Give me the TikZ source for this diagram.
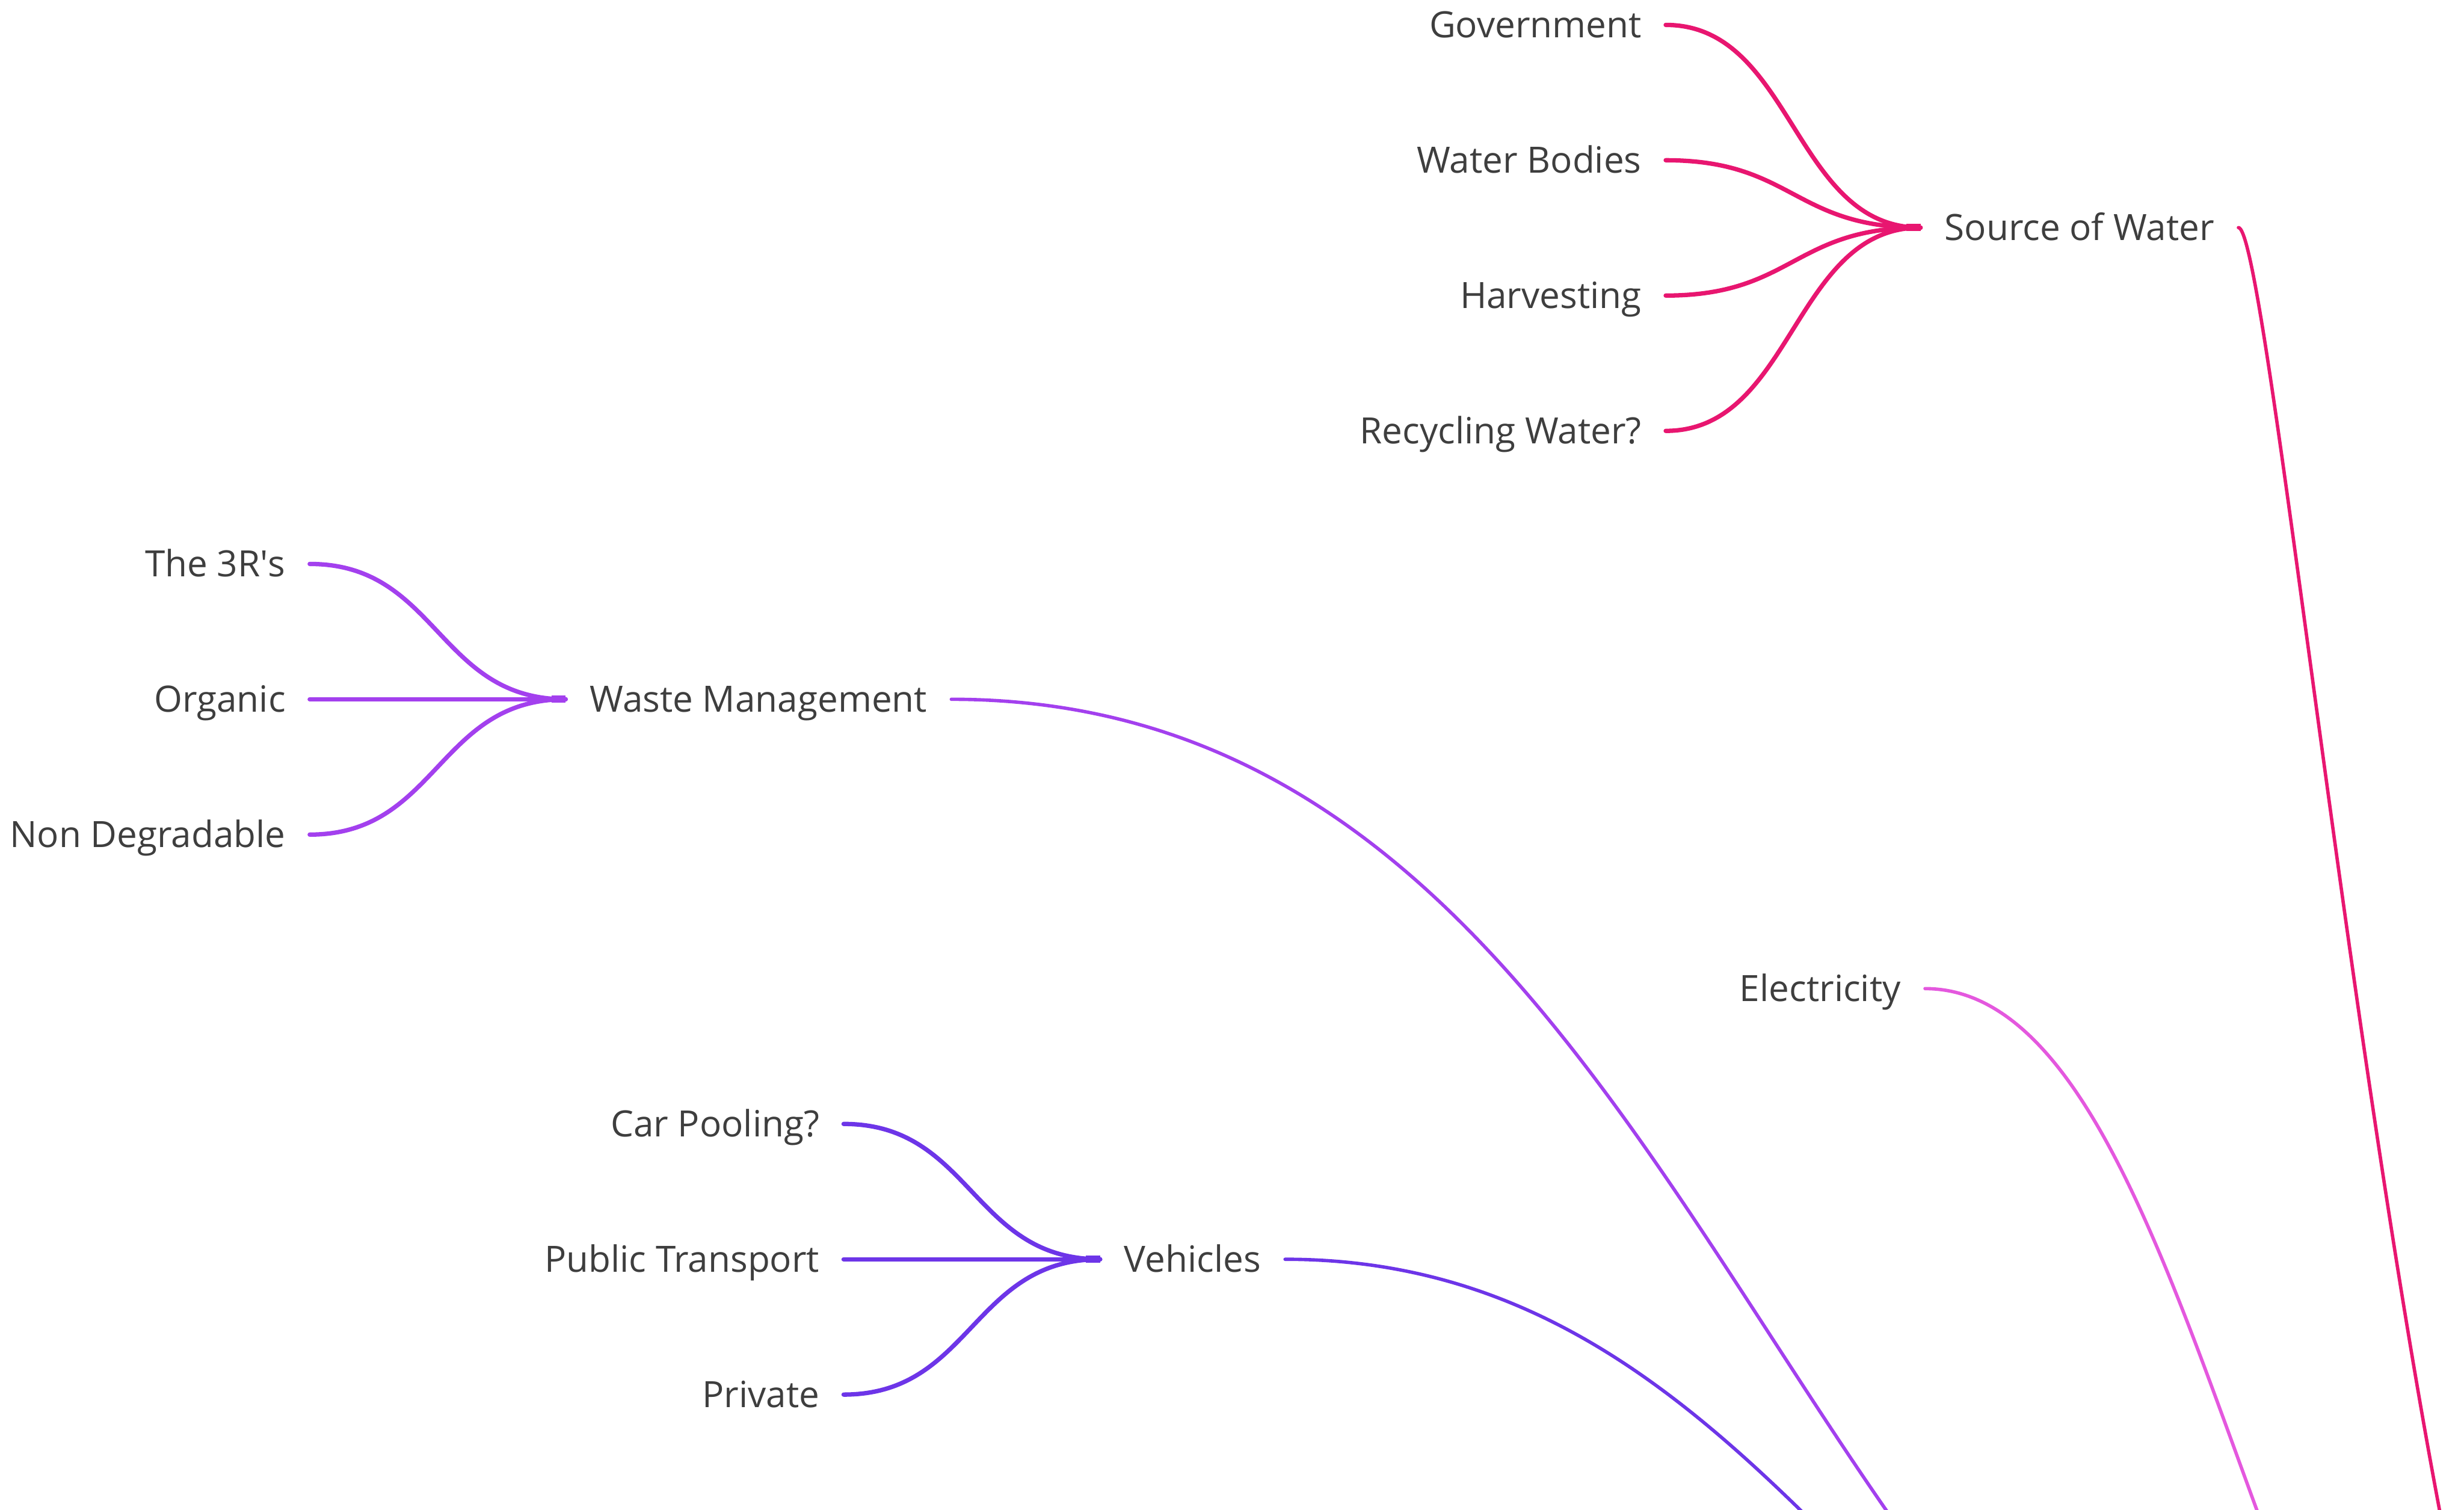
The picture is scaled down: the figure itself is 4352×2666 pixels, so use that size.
\documentclass[tikz,border=0pt]{standalone}
\usepackage{fontspec}
\setmainfont{Open Sans}
\definecolor{txt}{RGB}{62,62,62}
\definecolor{water}{RGB}{232,22,112}
\definecolor{waste}{RGB}{163,64,238}
\definecolor{transport}{RGB}{109,53,232}
\definecolor{power}{RGB}{228,88,222}
\begin{document}
\begin{tikzpicture}[x=0.01cm,y=-0.01cm,
  label/.style={inner xsep=0.42cm, inner ysep=0pt, text height=13pt, text depth=0pt,
                text=txt, font=\fontsize{18.2}{22}\selectfont},
  leaf/.style={label, anchor=east},
  topic/.style={label, anchor=west},
  twig/.style={line width=2.2pt, line cap=round},
  bough/.style={line width=1.7pt, line cap=round},
  stub/.style={line width=3.6pt},
]
\useasboundingbox (0,0) rectangle (4352,2666);

% topic nodes
\node[topic] (sow) at (3392,402) {Source of Water};
\node[topic] (wm)  at (999,1235) {Waste Management};
\node[topic] (veh) at (1943,2224) {Vehicles};
\node[leaf]  (elec) at (3400,1746) {Electricity};

% leaves of "Source of Water"
\node[leaf] (gov) at (2942,44)  {Government};
\node[leaf] (wb)  at (2942,283) {Water Bodies};
\node[leaf] (hv)  at (2942,522) {Harvesting};
\node[leaf] (rw)  at (2942,761) {Recycling Water?};

% leaves of "Waste Management"
\node[leaf] (rrr) at (547,996)  {The 3R\textquotesingle s};
\node[leaf] (org) at (547,1235) {Organic};
\node[leaf] (nd)  at (547,1474) {Non Degradable};

% leaves of "Vehicles"
\node[leaf] (cp)  at (1490,1985) {Car Pooling?};
\node[leaf] (pt)  at (1490,2224) {Public Transport};
\node[leaf] (pv)  at (1490,2463) {Private};

% twigs into each topic
\foreach \n in {gov,wb,hv,rw}
  \draw[twig, water] (\n.east) .. controls +(225,0) and +(-225,0) .. (sow.west);
\foreach \n in {rrr,org,nd}
  \draw[twig, waste] (\n.east) .. controls +(226,0) and +(-226,0) .. (wm.west);
\foreach \n in {cp,pt,pv}
  \draw[twig, transport] (\n.east) .. controls +(226,0) and +(-226,0) .. (veh.west);

% merging stubs at the topics
\draw[stub, water] ([xshift=-0.25cm]sow.west) -- (sow.west);
\draw[stub, waste] ([xshift=-0.25cm]wm.west) -- (wm.west);
\draw[stub, transport] ([xshift=-0.25cm]veh.west) -- (veh.west);

% main branches running down to the central idea below the frame
\begin{scope}
  \clip (0,0) rectangle (4352,2666);
  \coordinate (hub) at (4600,3500);
  \draw[bough, water] (sow.east) .. controls +(69,0) and +(-300,0) .. (hub);
  \draw[bough, power] (elec.east) .. controls +(520,0) and +(-600,0) .. (hub);
  \draw[bough, waste] (wm.east) .. controls +(1440,0) and +(-1460,0) .. (hub);
  \draw[bough, transport] (veh.east) .. controls +(1000,0) and +(-1166,0) .. (hub);
\end{scope}
\end{tikzpicture}
\end{document}
